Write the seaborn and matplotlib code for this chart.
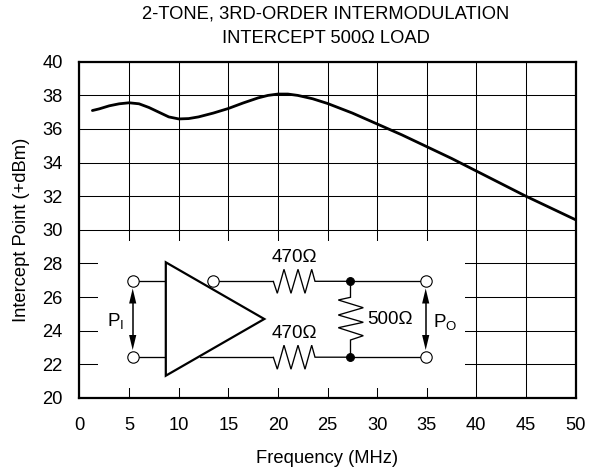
import numpy as np
import pandas as pd
import seaborn as sns
import matplotlib.pyplot as plt
from matplotlib.patches import Polygon, Rectangle

# values
freq = [1.3, 2, 3, 4, 5, 6, 7, 8, 9, 10, 11, 12, 13.5, 15, 16.5, 18, 19, 20, 21, 22, 23.5, 25,
        27.5, 30, 32.5, 35, 37.5, 40, 42.5, 45, 47.5, 50]
intercept = [37.1, 37.2, 37.38, 37.5, 37.56, 37.5, 37.28, 37.0, 36.72, 36.6, 36.62, 36.72, 36.95,
             37.22, 37.55, 37.85, 38.0, 38.08, 38.08, 38.0, 37.8, 37.52,
             36.95, 36.3, 35.65, 34.95, 34.25, 33.5, 32.75, 32.0, 31.3, 30.6]
x_ticks = list(range(0, 55, 5))
y_ticks = list(range(20, 42, 2))

title_text = '2-TONE, 3RD-ORDER INTERMODULATION\nINTERCEPT 500Ω LOAD'
x_label = 'Frequency (MHz)'
y_label = 'Intercept Point (+dBm)'

sns.set_theme(style='white')
plt.rcParams['font.family'] = ['Liberation Sans', 'DejaVu Sans']
plt.rcParams['mathtext.fontset'] = 'custom'
plt.rcParams['mathtext.rm'] = 'Liberation Sans'
plt.rcParams['text.color'] = 'black'

W, H = 596, 474
FS = 13.2
fig = plt.figure(figsize=(W / 100, H / 100), dpi=100)
ax = fig.add_axes([79.5 / W, (H - 397.8) / H, 496 / W, 336 / H])

df = pd.DataFrame({'freq': freq, 'intercept': intercept})
sns.lineplot(data=df, x='freq', y='intercept', color='black', linewidth=2.0, ax=ax, zorder=4)

ax.set_xlim(0, 50)
ax.set_ylim(20, 40)
ax.set_xticks(x_ticks)
ax.set_yticks(y_ticks)
ax.grid(True, color='black', linewidth=0.75, zorder=1)
ax.set_axisbelow(True)
ax.tick_params(axis='x', length=0, pad=14, labelsize=FS, labelcolor='black')
ax.tick_params(axis='y', length=0, pad=12, labelsize=FS, labelcolor='black')
ax.set_xlabel(x_label, fontsize=FS, labelpad=11, color='black')
ax.set_ylabel(y_label, fontsize=FS, labelpad=9, color='black')
for s in ax.spines.values():
    s.set_linewidth(1.6)
    s.set_color('black')
    s.set_zorder(6)
fig.text(325.5 / W, 1 - 26 / H, title_text, ha='center', va='center', fontsize=FS, linespacing=1.6,
         color='black')


# schematic is laid out in reference pixels, converted to data units here
def pt(px, py):
    return ((px - 79.5) / 496 * 50, 40 - (py - 61.8) / 336 * 20)


def wire(points, lw=0.95):
    xs, ys = zip(*[pt(*p) for p in points])
    ax.plot(xs, ys, color='black', linewidth=lw, zorder=5, solid_joinstyle='miter')


def node(px, py, fill):
    # drawn as a marker so it stays round whatever the data aspect
    x, y = pt(px, py)
    ax.plot([x], [y], marker='o', markersize=8.2 if fill == 'white' else 5.6, markerfacecolor=fill,
            markeredgecolor='black', markeredgewidth=0.8, linestyle='none', zorder=8)


def double_arrow(px, top, bottom):
    wire([(px, top + 8), (px, bottom - 8)], lw=1.1)
    for tip, base in [(top, top + 15), (bottom, bottom - 15)]:
        ax.add_patch(Polygon([pt(px, tip), pt(px - 3.6, base), pt(px + 3.6, base)],
                             closed=True, color='black', linewidth=0, zorder=7))


# blank out the grid behind the circuit
x0, y0 = pt(97.7, 388)
x1, y1 = pt(465, 240.7)
ax.add_patch(Rectangle((x0, y0), x1 - x0, y1 - y0, facecolor='white', edgecolor='none', zorder=2))

for y in (281.3, 357.2):
    zig = [(273.3, y), (277.3, y + 12), (284, y - 12), (291, y + 12), (298, y - 12), (305, y + 12),
           (311.7, y - 12), (315, y)]
    wire(zig + [(350.3, y)])
    wire([(350.3, y), (425.7, y)])
    wire([(132.7, y), (166, y)])
wire([(213, 281.3), (273.3, 281.3)])
wire([(200, 357.2), (273.3, 357.2)])
wire([(350.5, 281.3), (350.5, 297.3), (338.3, 300), (363.3, 307.7), (338.3, 315), (363.3, 322.3),
      (338.3, 327.7), (363.3, 335.7), (350.5, 340), (350.5, 357.2)])

ax.add_patch(Polygon([pt(165.8, 262.3), pt(264.3, 319), pt(165.8, 375.7)], closed=True, facecolor='white',
                     edgecolor='black', linewidth=1.6, joinstyle='miter', zorder=6))

double_arrow(132.7, 288.5, 350)
double_arrow(425.7, 288.5, 350)

for px, py in [(132.7, 281.3), (132.7, 357.2), (213, 281.3), (425.7, 281.3), (425.7, 357.2)]:
    node(px, py, 'white')
for px, py in [(350.3, 281.3), (350.3, 357.2)]:
    node(px, py, 'black')

labels = [(294.5, 257.5, '470Ω'), (294.5, 333, '470Ω'), (390, 319.3, '500Ω'),
          (115.5, 321, r'$\mathrm{P_I}$'), (445.5, 322, r'$\mathrm{P_O}$')]
for px, py, s in labels:
    x, y = pt(px, py)
    ax.text(x, y, s, ha='center', va='center', fontsize=13.6, color='black', zorder=9)

fig.savefig('out.png', dpi=100)
